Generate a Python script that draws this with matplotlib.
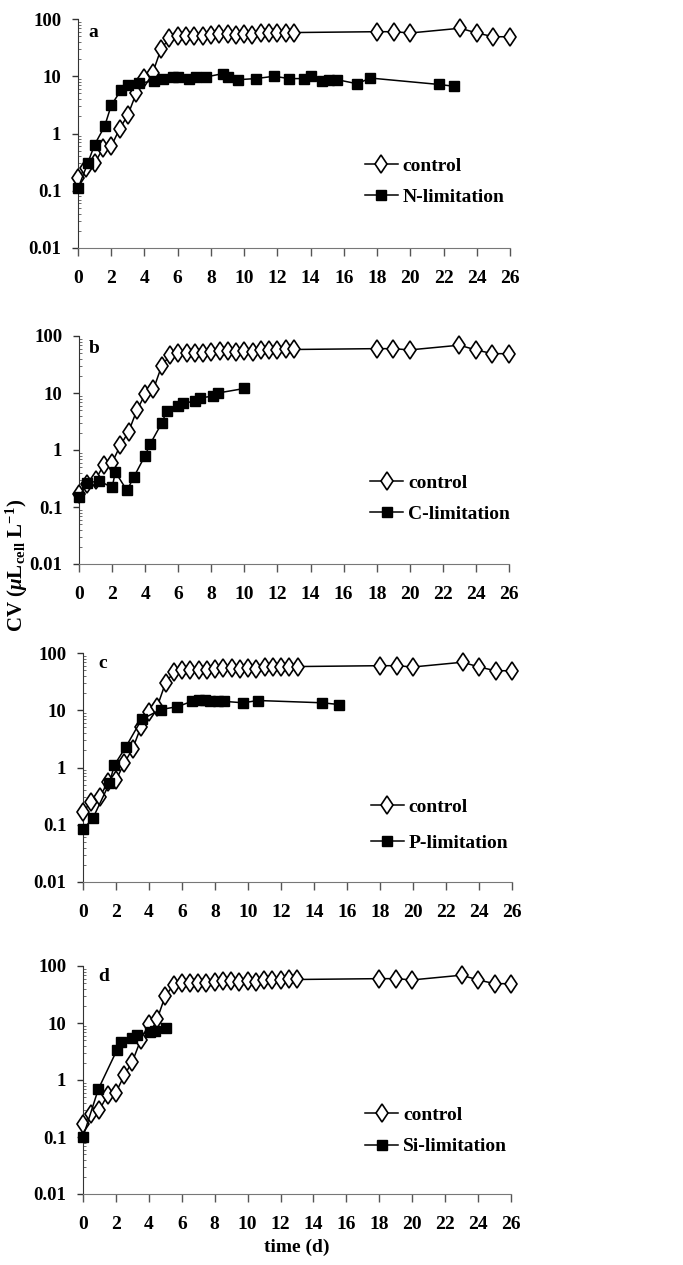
import matplotlib
matplotlib.use("Agg")
import matplotlib.pyplot as plt
from matplotlib.ticker import FixedLocator, LogLocator, NullFormatter

plt.rcParams['font.family'] = ['Liberation Serif', 'DejaVu Serif']
plt.rcParams['font.weight'] = 'bold'
plt.rcParams['mathtext.fontset'] = 'custom'
plt.rcParams['mathtext.rm'] = 'Liberation Serif:bold'
plt.rcParams['mathtext.it'] = 'Liberation Serif:bold:italic'
plt.rcParams['mathtext.bf'] = 'Liberation Serif:bold'

# ---- data ----
control_t = [0, 0.5, 1.0, 1.5, 2.0, 2.5, 3.0, 3.5, 4.0, 4.5, 5.0, 5.5, 6.0, 6.5, 7.0,
             7.5, 8.0, 8.5, 9.0, 9.5, 10.0, 10.5, 11.0, 11.5, 12.0, 12.5, 13.0,
             18, 19, 20, 23, 24, 25, 26]
control_cv = [0.17, 0.25, 0.3, 0.55, 0.6, 1.2, 2.1, 5.0, 9.5, 11.6, 30, 46, 50, 50, 50,
              50, 52, 54, 54, 52, 54, 52, 57, 56, 57, 58, 58,
              60, 60, 57, 69, 57, 49, 49]

n_t = [0, 0.6, 1.0, 1.6, 2.0, 2.6, 3.0, 3.7, 4.6, 5.1, 5.7, 6.0, 6.7, 7.1, 7.7, 8.7,
       9.0, 9.6, 10.7, 11.8, 12.7, 13.6, 14.0, 14.7, 15.1, 15.6, 16.8, 17.6, 21.7, 22.6]
n_cv = [0.11, 0.31, 0.64, 1.33, 3.1, 5.8, 6.95, 7.6, 8.3, 9.1, 9.7, 9.7, 9.1, 9.7, 9.7, 11.1,
        9.7, 8.7, 9.1, 10.0, 9.1, 9.1, 10.0, 8.3, 8.7, 8.7, 7.4, 9.3, 7.2, 6.7]

c_t = [0, 0.5, 1.2, 2.0, 2.2, 2.9, 3.3, 4.0, 4.3, 5.0, 5.3, 6.0, 6.3, 7.0, 7.3, 8.1, 8.4, 10.0]
c_cv = [0.15, 0.26, 0.29, 0.22, 0.41, 0.195, 0.33, 0.8, 1.27, 2.95, 4.8, 5.9, 6.6, 7.2, 8.2, 8.8, 10.0, 12.0]

p_t = [0, 0.6, 1.6, 1.9, 2.6, 3.55, 4.7, 5.7, 6.6, 7.0, 7.4, 7.7, 8.2, 8.55, 9.7, 10.6, 14.5, 15.5]
p_cv = [0.083, 0.13, 0.53, 1.1, 2.3, 6.9, 10.3, 11.5, 14.3, 15.0, 15.0, 14.5, 14.3, 14.3, 13.5, 14.8, 13.5, 12.6]

si_t = [0, 0.93, 2.05, 2.3, 3.0, 3.3, 4.1, 4.4, 5.05]
si_cv = [0.1, 0.69, 3.3, 4.7, 5.4, 6.2, 7.0, 7.3, 8.1]

panel_letters = ['a', 'b', 'c', 'd']
treat_labels = ['N-limitation', 'C-limitation', 'P-limitation', 'Si-limitation']
treat_t = [n_t, c_t, p_t, si_t]
treat_cv = [n_cv, c_cv, p_cv, si_cv]

x_ticks = list(range(0, 27, 2))
y_ticks = [0.01, 0.1, 1, 10, 100]
y_ticklabels = ['0.01', '0.1', '1', '10', '100']

# ---- layout (figure fractions) ----
W, H = 683, 1265
axes_px = [  # left, right, top, bottom in pixels
    (78, 510, 19, 248),
    (79, 509, 336, 564),
    (83, 512, 653, 882),
    (83, 511, 966, 1194),
]
legend_anchor = [(0.664, 0.29, 0.65), (0.677, 0.287, 0.7), (0.671, 0.247, 0.95), (0.659, 0.276, 0.7)]
letter_pos = [(0.025, 0.94), (0.023, 0.947), (0.035, 0.952), (0.035, 0.956)]

fig = plt.figure(figsize=(W / 100, H / 100), dpi=100)
FS = 13.5

for i in range(4):
    l, r, t, b = axes_px[i]
    ax = fig.add_axes([l / W, 1 - b / H, (r - l) / W, (b - t) / H])
    ax.set_yscale('log')
    ax.plot(control_t, control_cv, color='black', lw=1.1, marker='d', ms=9.5,
            mfc='white', mec='black', mew=1.2, clip_on=False, label='control', zorder=3)
    ax.plot(treat_t[i], treat_cv[i], color='black', lw=1.1, marker='s', ms=6.5,
            mfc='black', mec='black', clip_on=False, label=treat_labels[i], zorder=4)
    ax.set_xlim(0, 26)
    ax.set_ylim(0.01, 100)
    ax.set_xticks(x_ticks)
    ax.set_xticklabels([str(v) for v in x_ticks])
    ax.yaxis.set_major_locator(FixedLocator(y_ticks))
    ax.set_yticklabels(y_ticklabels)
    ax.yaxis.set_minor_locator(LogLocator(base=10, subs=range(2, 10), numticks=20))
    ax.yaxis.set_minor_formatter(NullFormatter())
    ax.spines['top'].set_visible(False)
    ax.spines['right'].set_visible(False)
    ax.spines['left'].set_color('#333333')
    ax.spines['bottom'].set_color('#777777')
    ax.tick_params(axis='x', which='major', direction='out', length=6, width=1,
                   color='#555555', pad=10, labelsize=FS + 0.5)
    ax.tick_params(axis='y', which='major', direction='out', length=4, width=1,
                   color='#333333', pad=8, labelsize=FS)
    ax.tick_params(axis='y', which='minor', direction='in', length=2.5, width=0.6,
                   color='#555555')
    for lab in ax.get_xticklabels() + ax.get_yticklabels():
        lab.set_fontweight('bold')
    lx, ly = letter_pos[i]
    ax.text(lx, ly, panel_letters[i], transform=ax.transAxes, ha='left', va='center',
            fontsize=FS + 0.5, fontweight='bold')
    ax_, ay_, sp = legend_anchor[i]
    ax.legend(loc='center left', bbox_to_anchor=(ax_, ay_), frameon=False,
              handlelength=1.7, handletextpad=0.25, borderpad=0,
              borderaxespad=0, labelspacing=sp, prop={'weight': 'bold', 'size': FS + 0.5})
    if i == 3:
        ax.set_xlabel('time (d)', fontsize=FS + 0.5, fontweight='bold', labelpad=4)

fig.text(17 / W, 1 - 565 / H, r'CV ($\mu$L$_{\mathrm{cell}}$ L$^{\mathrm{-1}}$)',
         rotation=90, ha='center', va='center', fontsize=15, fontweight='bold')

fig.savefig('out.png', dpi=100)
